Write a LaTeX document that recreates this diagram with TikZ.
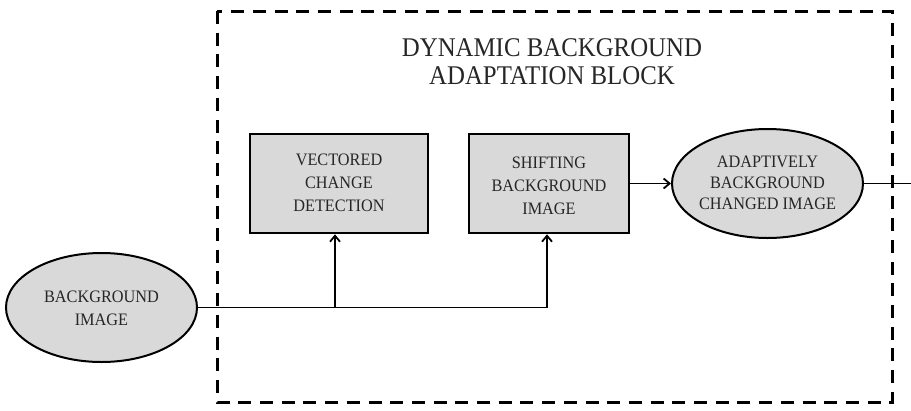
\documentclass[tikz,border=0pt]{standalone}
\usepackage{fontspec}
\setmainfont{Liberation Serif}
\newfontfamily\titlefont[FakeStretch=0.92]{Liberation Serif}
\newfontfamily\smallfont[FakeStretch=0.93]{Liberation Serif}
\usetikzlibrary{shapes.geometric,arrows.meta}
\definecolor{boxgray}{HTML}{D9D9D9}
\definecolor{inkgray}{HTML}{262626}
\tikzset{
  blockbox/.style={draw=black, line width=2.6pt, fill=boxgray, rectangle, inner sep=0pt},
  ellbox/.style={draw=black, line width=2pt, fill=boxgray, ellipse, inner sep=0pt, minimum width=191pt, minimum height=109pt},
  smalltxt/.style={font=\smallfont\fontsize{17.5}{23}\selectfont, text=inkgray, align=center, inner sep=0pt},
  elltxt/.style={smalltxt, font=\smallfont\fontsize{17.5}{21}\selectfont},
  titletxt/.style={font=\titlefont\fontsize{27}{27.5}\selectfont, text=inkgray, align=center, inner sep=0pt},
  conn/.style={draw=black, line width=1.8pt},
  arr/.style={conn, -{Straight Barb[length=6pt,width=10pt]}},
  frame/.style={draw=black, line width=3pt, dash pattern=on 13pt off 8.7pt}
}
\begin{document}
\begin{tikzpicture}[x=1pt,y=-1pt]
\useasboundingbox (0,0) rectangle (911,410);
% dashed frame
\draw[frame] (217,11) rectangle (892,402);
\node[titletxt] (title) at (552,61.5) {DYNAMIC BACKGROUND\\ADAPTATION BLOCK};
% blocks
\node[blockbox, minimum width=178pt, minimum height=99pt] (b1) at (339,183.5) {};
\node[smalltxt] at ([yshift=1]b1.center) {VECTORED\\CHANGE\\DETECTION};
\node[blockbox, minimum width=160pt, minimum height=99pt] (b2) at (549,183.5) {};
\node[smalltxt] at ([yshift=-2]b2.center) {SHIFTING\\BACKGROUND\\IMAGE};
% ellipses
\node[ellbox] (out) at (767.5,183.5) {};
\node[elltxt] at ([yshift=1]out.center) {ADAPTIVELY\\BACKGROUND\\CHANGED IMAGE};
\node[ellbox] (bg) at (101.5,307.5) {};
\node[smalltxt] at ([yshift=-1]bg.center) {BACKGROUND\\IMAGE};
% connectors
\coordinate (j1) at (335,307.5);
\coordinate (j2) at (547,307.5);
\coordinate (exit) at (911,183.5);
\draw[conn] (bg.east) -- (j2);
\draw[arr] (j1) -- (j1 |- b1.south);
\draw[arr] (j2) -- (j2 |- b2.south);
\draw[arr] (b2.east) -- (out.west);
\draw[conn] (out.east) -- (exit);
\end{tikzpicture}
\end{document}
